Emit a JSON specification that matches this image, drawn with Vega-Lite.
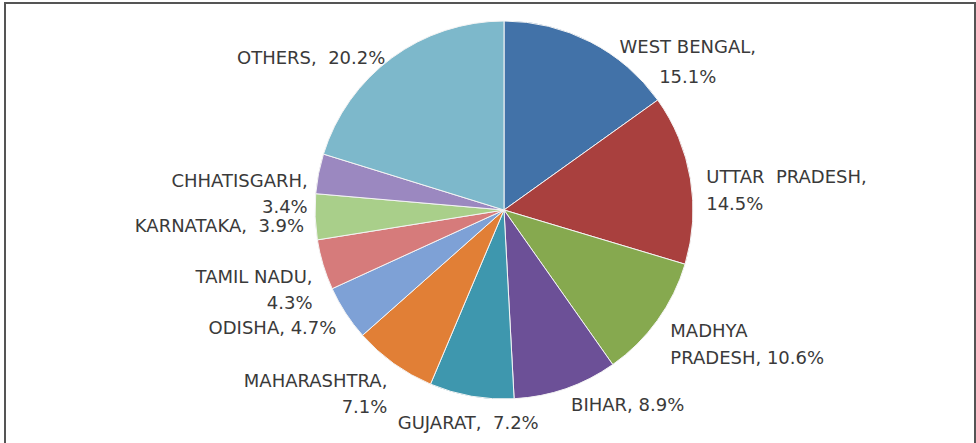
{
  "$schema": "https://vega.github.io/schema/vega-lite/v6.json",
  "autosize": {"type": "fit", "contains": "padding"},
  "width": 976,
  "height": 443,
  "padding": {"left": 5, "top": 3, "right": 1, "bottom": -4},
  "background": "white",
  "view": {"stroke": "#555555", "strokeWidth": 2, "fill": "white"},
  "data": {
    "values": [
      {"rank": 1, "state": "WEST BENGAL", "pct": 15.1, "label": "WEST BENGAL,\n15.1%"},
      {"rank": 2, "state": "UTTAR PRADESH", "pct": 14.5, "label": "UTTAR\u00a0 PRADESH,\n14.5%"},
      {"rank": 3, "state": "MADHYA PRADESH", "pct": 10.6, "label": "MADHYA\nPRADESH, 10.6%"},
      {"rank": 4, "state": "BIHAR", "pct": 8.9, "label": "BIHAR, 8.9%"},
      {"rank": 5, "state": "GUJARAT", "pct": 7.2, "label": "GUJARAT,\u00a0 7.2%"},
      {"rank": 6, "state": "MAHARASHTRA", "pct": 7.1, "label": "MAHARASHTRA,\n7.1%"},
      {"rank": 7, "state": "ODISHA", "pct": 4.7, "label": "ODISHA, 4.7%"},
      {"rank": 8, "state": "TAMIL NADU", "pct": 4.3, "label": "TAMIL NADU,\n4.3%"},
      {"rank": 9, "state": "KARNATAKA", "pct": 3.9, "label": "KARNATAKA,\u00a0 3.9%"},
      {"rank": 10, "state": "CHHATISGARH", "pct": 3.4, "label": "CHHATISGARH,\n3.4%"},
      {"rank": 11, "state": "OTHERS", "pct": 20.2, "label": "OTHERS,\u00a0 20.2%"}
    ]
  },
  "transform": [
    {"stack": "pct", "groupby": [], "sort": [{"field": "rank", "order": "ascending"}], "as": ["s0", "s1"]},
    {"calculate": "(datum.s0 + datum.s1) / 2", "as": "mid"}
  ],
  "layer": [
    {
      "mark": {"type": "arc", "radius": 189, "stroke": "#f4f4f4", "strokeWidth": 1, "xOffset": 14, "yOffset": -15},
      "encoding": {
        "theta": {"field": "s0", "type": "quantitative", "scale": {"domain": [0, 99.9]}},
        "theta2": {"field": "s1"},
        "color": {
          "field": "state",
          "type": "nominal",
          "legend": null,
          "scale": {
            "domain": ["WEST BENGAL", "UTTAR PRADESH", "MADHYA PRADESH", "BIHAR", "GUJARAT", "MAHARASHTRA", "ODISHA", "TAMIL NADU", "KARNATAKA", "CHHATISGARH", "OTHERS"],
            "range": ["#4272A8", "#A9403E", "#86A94F", "#6C5097", "#3E97AE", "#E17F36", "#7EA1D6", "#D67B7B", "#A9CF8A", "#9B88C0", "#7DB8CB"]
          }
        }
      }
    },
    {
      "transform": [{"filter": "datum.mid < 10"}],
      "mark": {"type": "text", "radius": 205, "align": "center", "baseline": "middle", "dx": 90, "dy": 20, "lineBreak": "\n", "lineHeight": 30, "font": "DejaVu Sans", "fontSize": 18, "color": "#3a3a3a", "xOffset": 14, "yOffset": -15},
      "encoding": {
        "theta": {"field": "mid", "type": "quantitative"},
        "text": {"field": "label"}
      }
    },
    {
      "transform": [{"filter": "datum.mid >= 10 && datum.mid < 47"}],
      "mark": {"type": "text", "radius": 205, "align": "left", "baseline": "middle", "dy": 2, "lineBreak": "\n", "lineHeight": 27, "font": "DejaVu Sans", "fontSize": 18, "color": "#3a3a3a", "xOffset": 14, "yOffset": -15},
      "encoding": {
        "theta": {"field": "mid", "type": "quantitative"},
        "text": {"field": "label"}
      }
    },
    {
      "transform": [{"filter": "datum.mid >= 47 && datum.mid < 55"}],
      "mark": {"type": "text", "radius": 208, "align": "center", "baseline": "top", "lineBreak": "\n", "lineHeight": 28, "font": "DejaVu Sans", "fontSize": 18, "color": "#3a3a3a", "xOffset": 14, "yOffset": -15},
      "encoding": {
        "theta": {"field": "mid", "type": "quantitative"},
        "text": {"field": "label"}
      }
    },
    {
      "transform": [{"filter": "datum.mid >= 55"}],
      "mark": {"type": "text", "radius": 200, "align": "right", "baseline": "middle", "dy": 10, "lineBreak": "\n", "lineHeight": 26, "font": "DejaVu Sans", "fontSize": 18, "color": "#3a3a3a", "xOffset": 14, "yOffset": -15},
      "encoding": {
        "theta": {"field": "mid", "type": "quantitative"},
        "text": {"field": "label"}
      }
    }
  ]
}
